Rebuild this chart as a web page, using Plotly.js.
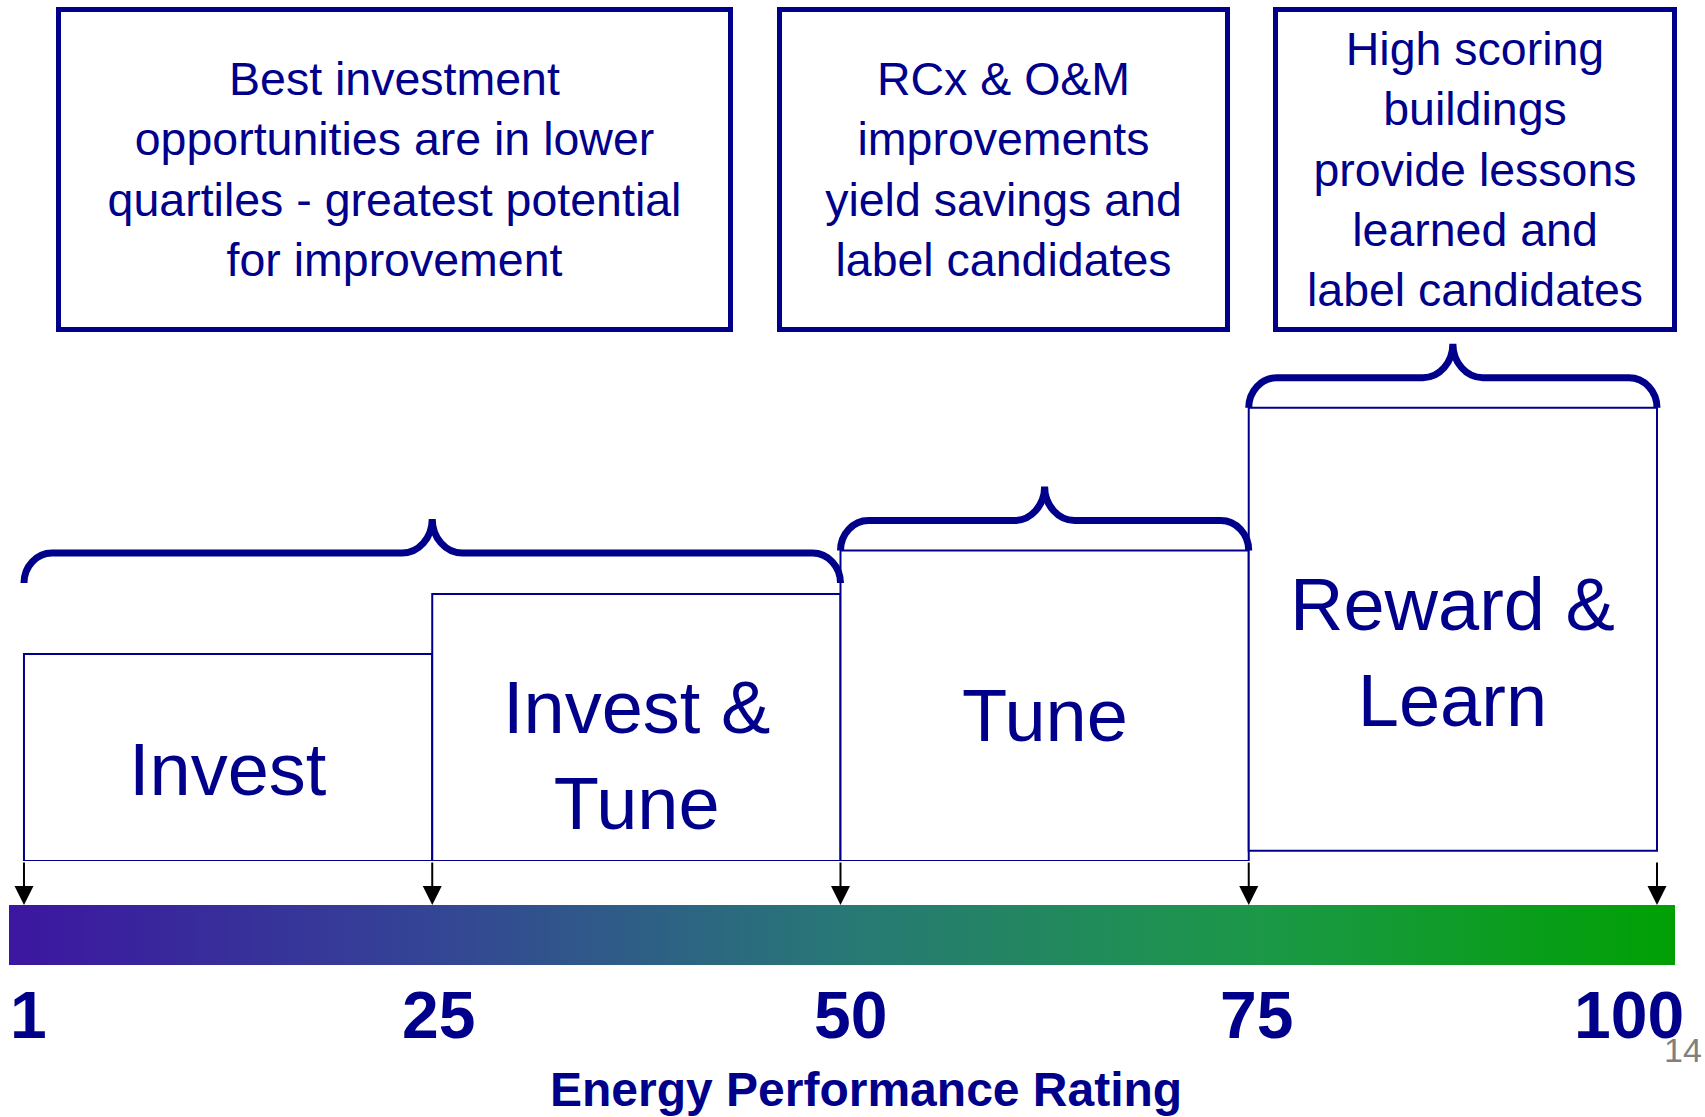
<!DOCTYPE html>
<html>
<head>
<meta charset="utf-8">
<script src="https://cdn.plot.ly/plotly-3.0.1.min.js"></script>
<style>
  html, body { margin: 0; padding: 0; background: #ffffff; }
  #chart { width: 1705px; height: 1117px; }
</style>
</head>
<body>
<div id="chart"></div>
<script>
// ---------------- data ----------------
const ratingTicks = [1, 25, 50, 75, 100];
const tickLabels = ['1', '25', '50', '75', '100'];
const stageNames = ['Invest', 'Invest &amp;<br>Tune', 'Tune', 'Reward &amp;<br>Learn'];
const stageStart = [1, 25, 50, 75];
const stageEnd = [25, 50, 75, 100];
const stageHeight = [1.00, 1.29, 1.50, 2.14];
const calloutTexts = [
  'Best investment<br>opportunities are in lower<br>quartiles - greatest potential<br>for improvement',
  'RCx &amp; O&amp;M<br>improvements<br>yield savings and<br>label candidates',
  'High scoring<br>buildings<br>provide lessons<br>learned and<br>label candidates'
];
const calloutStages = [[0, 1], [2], [3]];
const axisTitle = 'Energy Performance Rating';
const pageNumber = '14';

// ---------------- style / layout ----------------
const NAVY = '#00008B';
const FONT = 'Liberation Sans, Arial, Helvetica, sans-serif';
const W = 1705, H = 1117;
const M = { l: 9, r: 30, t: 0, b: 152 };
const plotW = W - M.l - M.r;           // 1666
const plotH = H - M.t - M.b;           // 965
// the rating scale is drawn as an ordinal (quartile) scale: each breakpoint is evenly spaced
const pos = v => ratingTicks.indexOf(v);
const xRange = [-0.0367, 4.0441];
const barTopFrac = 60 / plotH;          // gradient bar band
const mainBottomFrac = 104 / plotH;     // baseline of the stage boxes
const yMax = 4.16;
const xPx = plotW / (xRange[1] - xRange[0]);
const yPx = plotH * (1 - mainBottomFrac) / yMax;

// per-item offsets (style)
const stageBase = [0, 0, 0, 0.05];
const labelShiftY = [-12, -28, -10, -23];
const braceLift = [11, 0, 0];
const tickShiftX = [5, 6, 10, 8, -28];

const traces = [];

// gradient rating bar
traces.push({
  type: 'scatter', mode: 'none', hoverinfo: 'skip',
  x: [xRange[0], xRange[1], xRange[1], xRange[0], xRange[0]],
  y: [0, 0, 1, 1, 0],
  xaxis: 'x', yaxis: 'y2',
  fill: 'toself',
  fillgradient: {
    type: 'horizontal',
    colorscale: [
      [0, 'rgb(60,22,160)'],
      [0.25, 'rgb(52,68,150)'],
      [0.5, 'rgb(40,120,118)'],
      [0.75, 'rgb(28,152,72)'],
      [1, 'rgb(0,160,4)']
    ]
  }
});

// stage boxes
const x0s = stageStart.map(pos), x1s = stageEnd.map(pos);
const mids = x0s.map((s, i) => (s + x1s[i]) / 2);
const widths = x0s.map((s, i) => x1s[i] - s);
traces.push({
  type: 'bar', hoverinfo: 'skip',
  x: mids, width: widths, y: stageHeight, base: stageBase,
  xaxis: 'x', yaxis: 'y',
  marker: { color: '#ffffff', line: { color: NAVY, width: 2 } }
});

// braces
function bracePath(xa, xb, yb) {
  const h1 = 30 / yPx, h2 = 34 / yPx, r = 28 / xPx, r2 = 30 / xPx, k = 0.55;
  const xm = (xa + xb) / 2, yh = yb + h1, yt = yh + h2;
  return `M${xa},${yb} C${xa},${yb + k * h1} ${xa + r - k * r},${yh} ${xa + r},${yh} ` +
    `L${xm - r2},${yh} C${xm - r2 + k * r2},${yh} ${xm},${yt - k * h2} ${xm},${yt} ` +
    `C${xm},${yt - k * h2} ${xm + r2 - k * r2},${yh} ${xm + r2},${yh} ` +
    `L${xb - r},${yh} C${xb - r + k * r},${yh} ${xb},${yb + k * h1} ${xb},${yb}`;
}
const shapes = calloutStages.map((idx, j) => {
  const xa = x0s[idx[0]];
  const xb = x1s[idx[idx.length - 1]];
  const top = Math.max(...idx.map(i => stageBase[i] + stageHeight[i]));
  return {
    type: 'path', xref: 'x', yref: 'y',
    path: bracePath(xa, xb, top + braceLift[j] / yPx),
    line: { color: NAVY, width: 7 }
  };
});

const annotations = [];

// stage labels
stageNames.forEach((name, i) => {
  annotations.push({
    xref: 'x', yref: 'y', x: mids[i], y: stageBase[i] + stageHeight[i] / 2,
    yshift: labelShiftY[i], text: name, showarrow: false,
    xanchor: 'center', yanchor: 'middle',
    font: { family: FONT, size: 74, color: NAVY }
  });
});

// arrows down to the bar
ratingTicks.forEach(v => {
  annotations.push({
    xref: 'x', yref: 'y2', x: pos(v), y: 1, text: '', showarrow: true,
    ax: 0, ay: -44, arrowhead: 2, arrowsize: 1.9, arrowwidth: 2, arrowcolor: '#000000'
  });
});

// tick labels
ratingTicks.forEach((v, i) => {
  annotations.push({
    xref: 'x', yref: 'paper', x: pos(v), y: (plotH - 1015) / plotH, xshift: tickShiftX[i],
    text: tickLabels[i], showarrow: false, xanchor: 'center', yanchor: 'middle',
    font: { family: FONT, size: 66, color: NAVY, weight: 'bold' }
  });
});

// callout boxes
const boxes = [
  { cx: 394.5, w: 677 },
  { cx: 1003.5, w: 453 },
  { cx: 1475, w: 404 }
];
calloutTexts.forEach((t, i) => {
  annotations.push({
    xref: 'paper', yref: 'paper',
    x: (boxes[i].cx - M.l) / plotW, y: (plotH - 7) / plotH,
    xanchor: 'center', yanchor: 'top',
    width: boxes[i].w - 10, height: 315,
    text: t, showarrow: false, align: 'center', valign: 'middle',
    bordercolor: NAVY, borderwidth: 5, borderpad: 0, bgcolor: '#ffffff',
    font: { family: FONT, size: 46.5, color: NAVY }
  });
});

// axis title
annotations.push({
  xref: 'paper', yref: 'paper', x: (866 - M.l) / plotW, y: (plotH - 1089) / plotH,
  xanchor: 'center', yanchor: 'middle', text: axisTitle, showarrow: false,
  font: { family: FONT, size: 48, color: NAVY, weight: 'bold' }
});

// page number
annotations.push({
  xref: 'paper', yref: 'paper', x: (1683 - M.l) / plotW, y: (plotH - 1050) / plotH,
  xanchor: 'center', yanchor: 'middle', text: pageNumber, showarrow: false,
  font: { family: FONT, size: 34, color: '#808080' }
});

const layout = {
  width: W, height: H,
  margin: M,
  paper_bgcolor: '#ffffff', plot_bgcolor: '#ffffff',
  showlegend: false,
  bargap: 0,
  xaxis: {
    range: xRange, anchor: 'y2', showgrid: false, zeroline: false,
    showticklabels: false, ticks: '', showline: false, fixedrange: true
  },
  yaxis: {
    domain: [mainBottomFrac, 1], range: [0, yMax], visible: false, fixedrange: true
  },
  yaxis2: {
    domain: [0, barTopFrac], range: [0, 1], visible: false, fixedrange: true
  },
  shapes: shapes,
  annotations: annotations
};

Plotly.newPlot('chart', traces, layout, { staticPlot: true, displayModeBar: false });
</script>
</body>
</html>
